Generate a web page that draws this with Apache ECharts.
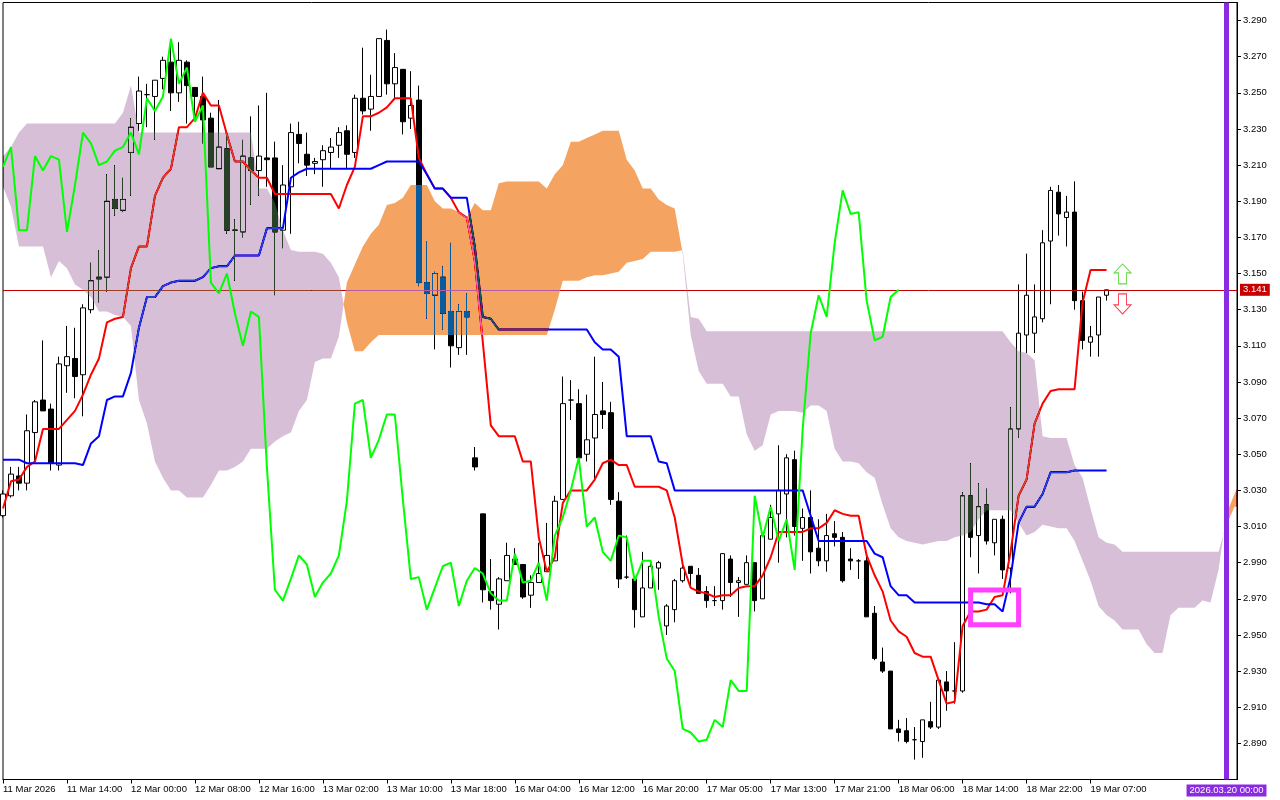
<!DOCTYPE html>
<html>
<head>
<meta charset="utf-8">
<style>html,body{margin:0;padding:0;background:#fff}#c{width:1280px;height:800px}</style>
<script src="https://cdn.jsdelivr.net/npm/echarts@6/dist/echarts.min.js"></script>
</head>
<body>
<div id="c"></div>
<script>
const opens = [
3.016,3.027,3.038,3.034,3.062,3.080,3.075,3.044,3.099,3.103,
3.094,3.130,3.148,3.148,3.191,3.185,3.217,3.233,3.249,3.248,
3.258,3.267,3.250,3.267,3.253,3.248,3.236,3.208,3.219,3.174,
3.173,3.214,3.207,3.214,3.214,3.174,3.198,3.227,3.216,3.211,
3.213,3.217,3.221,3.229,3.217,3.247,3.241,3.248,3.279,3.255,
3.263,3.236,3.246,3.145,3.138,3.148,3.129,3.109,3.129,3.048,
3.017,2.974,2.967,2.980,2.992,2.989,2.972,2.979,2.985,2.991,
3.025,3.080,3.078,3.050,3.059,3.074,3.073,3.024,2.982,2.981,
2.960,2.976,2.987,2.955,2.964,2.980,2.988,2.983,2.974,2.969,
2.969,2.992,2.979,2.978,2.990,2.970,3.003,3.017,3.028,3.047,
3.009,3.015,2.998,2.991,3.006,3.004,2.992,2.991,2.991,2.962,
2.935,2.930,2.898,2.897,2.892,2.891,2.902,2.899,2.924,2.919,
2.919,3.027,3.005,3.022,3.001,3.014,2.987,3.064,3.116,3.117,
3.125,3.168,3.195,3.181,3.184,3.135,3.112,3.116,3.138];
const closes = [
3.028,3.039,3.034,3.063,3.079,3.074,3.045,3.100,3.104,3.093,
3.131,3.146,3.147,3.190,3.186,3.191,3.231,3.251,3.249,3.257,
3.268,3.250,3.268,3.254,3.248,3.235,3.209,3.220,3.174,3.174,
3.215,3.207,3.215,3.213,3.173,3.199,3.228,3.222,3.210,3.212,
3.218,3.220,3.228,3.216,3.247,3.240,3.248,3.280,3.255,3.264,
3.234,3.243,3.145,3.139,3.150,3.128,3.110,3.129,3.126,3.043,
2.975,2.969,2.981,2.994,2.989,2.971,2.979,2.984,2.994,3.024,
3.078,3.080,3.048,3.058,3.072,3.072,3.025,2.981,2.982,2.964,
2.976,2.988,2.990,2.966,2.980,2.987,2.984,2.973,2.969,2.969,
2.995,2.979,2.980,2.990,2.969,3.005,3.015,3.030,3.048,3.010,
3.015,2.996,2.991,3.005,3.004,2.980,2.991,2.991,2.960,2.937,
2.930,2.898,2.896,2.891,2.892,2.903,2.899,2.925,2.919,2.919,
3.027,3.004,3.021,3.002,3.014,2.986,3.064,3.117,3.138,3.126,
3.167,3.196,3.183,3.184,3.135,3.113,3.115,3.137,3.141];
const lows = [
3.015,3.026,3.030,3.030,3.046,3.074,3.041,3.041,3.084,3.081,
3.071,3.128,3.134,3.140,3.182,3.184,3.193,3.229,3.231,3.224,
3.252,3.240,3.245,3.233,3.235,3.222,3.209,3.208,3.172,3.146,
3.170,3.188,3.193,3.198,3.138,3.164,3.172,3.211,3.204,3.205,
3.198,3.208,3.214,3.208,3.214,3.238,3.229,3.248,3.249,3.247,
3.227,3.230,3.143,3.125,3.108,3.119,3.098,3.105,3.105,3.041,
2.968,2.964,2.953,2.980,2.989,2.970,2.965,2.979,2.985,2.991,
3.025,3.069,3.048,3.046,3.036,3.064,3.022,2.976,2.981,2.954,
2.960,2.976,2.975,2.950,2.957,2.979,2.976,2.973,2.965,2.966,
2.964,2.971,2.960,2.978,2.963,2.970,3.003,2.990,3.004,3.005,
2.991,2.984,2.988,2.985,2.999,2.979,2.986,2.981,2.960,2.936,
2.929,2.898,2.891,2.890,2.881,2.882,2.898,2.898,2.908,2.912,
2.918,2.993,2.984,3.000,2.994,2.981,2.973,3.059,3.106,3.106,
3.123,3.133,3.171,3.165,3.130,3.108,3.104,3.104,3.135];
const highs = [
3.030,3.043,3.043,3.072,3.080,3.113,3.078,3.104,3.121,3.120,
3.133,3.156,3.163,3.205,3.210,3.203,3.236,3.259,3.255,3.257,
3.270,3.277,3.278,3.268,3.253,3.259,3.239,3.246,3.228,3.180,
3.224,3.237,3.243,3.250,3.223,3.210,3.233,3.234,3.228,3.214,
3.221,3.225,3.231,3.232,3.249,3.275,3.260,3.280,3.285,3.272,
3.263,3.262,3.254,3.168,3.151,3.154,3.167,3.133,3.139,3.054,
3.017,2.992,2.982,3.001,2.998,2.989,2.983,3.001,3.012,3.027,
3.093,3.091,3.086,3.083,3.104,3.090,3.079,3.029,3.005,2.982,
2.996,2.991,2.991,2.967,2.981,2.989,2.988,2.987,2.977,2.977,
2.995,2.994,2.982,2.994,2.990,3.005,3.022,3.055,3.050,3.052,
3.020,3.030,3.014,3.017,3.013,3.007,2.998,2.992,2.994,2.966,
2.943,2.930,2.903,2.904,2.899,2.903,2.913,2.925,2.930,2.946,
3.029,3.045,3.034,3.031,3.014,3.016,3.076,3.144,3.161,3.144,
3.174,3.198,3.199,3.193,3.201,3.140,3.121,3.137,3.141];
const tenkan = [
3.020,3.035,3.036,3.043,3.046,3.064,3.064,3.064,3.069,3.074,
3.083,3.094,3.103,3.123,3.125,3.126,3.153,3.165,3.165,3.193,
3.203,3.208,3.231,3.231,3.236,3.250,3.243,3.243,3.227,3.212,
3.212,3.207,3.203,3.203,3.194,3.194,3.194,3.194,3.194,3.194,
3.194,3.194,3.186,3.199,3.209,3.237,3.237,3.239,3.242,3.247,
3.247,3.247,3.214,3.205,3.197,3.197,3.192,3.184,3.181,3.157,
3.112,3.066,3.060,3.060,3.060,3.046,3.046,3.004,2.985,2.993,
3.023,3.030,3.030,3.030,3.036,3.045,3.047,3.044,3.044,3.032,
3.032,3.032,3.032,3.030,3.015,2.989,2.976,2.974,2.973,2.971,
2.972,2.972,2.976,2.977,2.977,2.983,2.993,3.007,3.007,3.007,
3.007,3.009,3.009,3.012,3.019,3.017,3.016,3.016,2.994,2.983,
2.974,2.958,2.952,2.949,2.940,2.938,2.938,2.925,2.912,2.913,
2.955,2.963,2.963,2.964,2.971,2.972,2.996,3.027,3.036,3.067,
3.078,3.085,3.086,3.086,3.086,3.134,3.152,3.152,3.152];
const kijun = [
3.047,3.047,3.047,3.045,3.045,3.045,3.045,3.045,3.045,3.045,
3.044,3.056,3.060,3.080,3.082,3.082,3.095,3.120,3.137,3.137,
3.143,3.145,3.146,3.146,3.146,3.148,3.153,3.154,3.154,3.160,
3.160,3.160,3.160,3.175,3.175,3.175,3.203,3.206,3.208,3.208,
3.208,3.208,3.208,3.208,3.208,3.208,3.208,3.210,3.212,3.212,
3.212,3.212,3.212,3.205,3.197,3.197,3.192,3.192,3.192,3.165,
3.126,3.125,3.119,3.119,3.119,3.119,3.119,3.119,3.119,3.119,
3.119,3.119,3.119,3.119,3.112,3.108,3.108,3.104,3.060,3.060,
3.060,3.060,3.046,3.045,3.030,3.030,3.030,3.030,3.030,3.030,
3.030,3.030,3.030,3.030,3.030,3.030,3.030,3.030,3.030,3.030,
3.030,3.016,3.002,3.002,3.002,3.002,3.002,3.002,3.002,2.995,
2.993,2.977,2.972,2.972,2.968,2.968,2.968,2.968,2.968,2.968,
2.968,2.968,2.968,2.967,2.967,2.963,2.982,3.012,3.021,3.021,
3.028,3.040,3.040,3.040,3.041,3.041,3.041,3.041,3.041];
const chikou = [
3.209,3.220,3.174,3.174,3.215,3.207,3.215,3.213,3.173,3.199,3.228,3.222,3.210,3.212,
3.218,3.220,3.228,3.216,3.247,3.240,3.248,3.280,3.255,3.264,
3.234,3.243,3.145,3.139,3.150,3.128,3.110,3.129,3.126,3.043,
2.975,2.969,2.981,2.994,2.989,2.971,2.979,2.984,2.994,3.024,
3.078,3.080,3.048,3.058,3.072,3.072,3.025,2.981,2.982,2.964,
2.976,2.988,2.990,2.966,2.980,2.987,2.984,2.973,2.969,2.969,
2.995,2.979,2.980,2.990,2.969,3.005,3.015,3.030,3.048,3.010,
3.015,2.996,2.991,3.005,3.004,2.980,2.991,2.991,2.960,2.937,
2.930,2.898,2.896,2.891,2.892,2.903,2.899,2.925,2.919,2.919,
3.027,3.004,3.021,3.002,3.014,2.986,3.064,3.117,3.138,3.126,
3.167,3.196,3.183,3.184,3.135,3.113,3.115,3.137,3.141];
const senkouA = [
3.198,3.187,3.165,3.165,3.165,3.165,3.148,3.157,3.153,3.144,
3.141,3.137,3.129,3.129,3.127,3.126,3.121,3.080,3.067,3.046,
3.037,3.030,3.030,3.026,3.026,3.026,3.033,3.041,3.041,3.043,
3.046,3.053,3.053,3.053,3.057,3.060,3.062,3.074,3.080,3.101,
3.103,3.103,3.115,3.145,3.155,3.165,3.172,3.177,3.188,3.189,
3.192,3.199,3.199,3.199,3.190,3.186,3.186,3.184,3.181,3.189,
3.185,3.185,3.200,3.201,3.201,3.201,3.201,3.201,3.197,3.205,
3.210,3.223,3.223,3.225,3.227,3.229,3.229,3.229,3.213,3.207,
3.197,3.197,3.191,3.188,3.186,3.161,3.116,3.096,3.089,3.089,
3.089,3.082,3.082,3.061,3.052,3.055,3.072,3.074,3.074,3.074,
3.073,3.077,3.077,3.074,3.053,3.046,3.046,3.045,3.040,3.037,
3.022,3.009,3.004,3.002,3.001,3.000,3.001,3.002,3.002,3.004,
3.005,3.007,3.014,3.019,3.019,3.019,3.019,3.012,3.005,3.007,
3.011,3.010,3.009,3.009,3.002,2.991,2.980,2.966,2.961,2.958,
2.953,2.953,2.953,2.945,2.940,2.940,2.961,2.965,2.965,2.965,
2.969,2.968,2.986,3.017,3.028,3.037];
const senkouB = [
3.215,3.220,3.228,3.233,3.233,3.233,3.233,3.233,3.233,3.233,
3.233,3.233,3.233,3.233,3.233,3.239,3.254,3.228,3.228,3.228,
3.228,3.228,3.228,3.228,3.228,3.228,3.228,3.228,3.228,3.228,
3.228,3.228,3.197,3.197,3.189,3.174,3.163,3.162,3.162,3.162,
3.161,3.156,3.148,3.123,3.107,3.107,3.112,3.116,3.116,3.116,
3.116,3.116,3.116,3.116,3.116,3.116,3.116,3.116,3.116,3.116,
3.116,3.116,3.116,3.116,3.116,3.116,3.116,3.116,3.116,3.130,
3.146,3.146,3.146,3.148,3.149,3.149,3.150,3.151,3.156,3.157,
3.158,3.162,3.162,3.162,3.162,3.163,3.126,3.125,3.118,3.118,
3.118,3.118,3.118,3.118,3.118,3.118,3.118,3.118,3.118,3.118,
3.118,3.118,3.118,3.118,3.118,3.118,3.118,3.118,3.118,3.118,
3.118,3.118,3.118,3.118,3.118,3.118,3.118,3.118,3.118,3.118,
3.118,3.118,3.118,3.118,3.118,3.118,3.112,3.107,3.106,3.102,
3.060,3.059,3.059,3.059,3.044,3.037,3.020,3.004,3.001,3.000,
2.996,2.996,2.996,2.996,2.996,2.996,2.996,2.996,2.996,2.996,
2.996,2.996,2.996,3.011,3.021,3.021];
const xTickLabels = ['11 Mar 2026','11 Mar 14:00','12 Mar 00:00','12 Mar 08:00','12 Mar 16:00','13 Mar 02:00','13 Mar 10:00','13 Mar 18:00','16 Mar 04:00','16 Mar 12:00','16 Mar 20:00','17 Mar 05:00','17 Mar 13:00','17 Mar 21:00','18 Mar 06:00','18 Mar 14:00','18 Mar 22:00','19 Mar 07:00'];
const barsPerXTick = 8;
const yTickLabels = ['3.290','3.270','3.250','3.230','3.210','3.190','3.170','3.150','3.130','3.110','3.090','3.070','3.050','3.030','3.010','2.990','2.970','2.950','2.930','2.910','2.890'];
const currentPrice = 3.141;
const periodEndBar = 153;
const periodEndLabel = '2026.03.20 00:00';
const highlightBox = [121, 2.9749, 127, 2.9556];
const upArrow = [140, 3.1498];
const downArrow = [140, 3.1332];

const FONT = '"Liberation Sans",Arial,sans-serif';
const FONT_SIZE = 9.5;
const pairs = a => a.map((v, i) => [i, v]);
const candles = opens.map((o, i) => [i, o, closes[i], lows[i], highs[i]]);

// contiguous stretches of the cloud with the same sign of (A - B), joined at the crossing points
function cloudRegions() {
  const regions = [];
  let cur = null;
  for (let i = 0; i < senkouA.length; i++) {
    const up = senkouA[i] >= senkouB[i];
    if (!cur || cur.up !== up) {
      if (cur) {
        const d0 = senkouA[i - 1] - senkouB[i - 1], d1 = senkouA[i] - senkouB[i];
        const t = d0 / (d0 - d1);
        const cross = [i - 1 + t, senkouA[i - 1] + (senkouA[i] - senkouA[i - 1]) * t];
        cur.upper.push(cross);
        regions.push(cur);
        cur = { up, upper: [cross], lower: [] };
      } else {
        cur = { up, upper: [], lower: [] };
      }
    }
    cur.upper.push([i, senkouA[i]]);
    cur.lower.push([i, senkouB[i]]);
  }
  regions.push(cur);
  return regions;
}
const regions = cloudRegions();

const chart = echarts.init(document.getElementById('c'), null, { renderer: 'canvas', width: 1280, height: 800 });
chart.setOption({
  animation: false,
  backgroundColor: '#ffffff',
  textStyle: { fontFamily: FONT },
  grid: { left: 2.5, top: 2.5, width: 1234.5, height: 777, show: true, borderColor: '#000', borderWidth: 1, backgroundColor: 'transparent' },
  xAxis: {
    type: 'value', min: 0, max: 154.3125, position: 'bottom',
    axisLine: { show: true, onZero: false, lineStyle: { color: '#000', width: 1 } },
    axisTick: { show: true, length: 4, lineStyle: { color: '#000' }, customValues: xTickLabels.map((_, k) => k * barsPerXTick) },
    axisLabel: {
      show: true, color: '#000', fontFamily: FONT, fontSize: FONT_SIZE, align: 'left', margin: 5,
      customValues: xTickLabels.map((_, k) => k * barsPerXTick),
      formatter: v => xTickLabels[Math.round(v / barsPerXTick)] || ''
    },
    splitLine: { show: false }
  },
  yAxis: {
    type: 'value', min: 2.87, max: 3.30, position: 'right', scale: true,
    axisLine: { show: true, onZero: false, lineStyle: { color: '#000', width: 1 } },
    axisTick: { show: true, length: 4, lineStyle: { color: '#000' }, customValues: yTickLabels.map(Number) },
    axisLabel: {
      show: true, color: '#000', fontFamily: FONT, fontSize: FONT_SIZE, margin: 6,
      customValues: yTickLabels.map(Number),
      formatter: v => v.toFixed(3)
    },
    splitLine: { show: false }
  },
  series: [
    {
      name: 'Price', type: 'candlestick', z: 1, barWidth: 5, data: candles,
      encode: { x: 0, y: [1, 2, 3, 4] },
      itemStyle: { color: '#fff', color0: '#000', borderColor: '#000', borderColor0: '#000', borderColorDoji: '#000', borderWidth: 1 }
    },
    {
      name: 'Current price', type: 'line', z: 2, data: [], symbol: 'none', silent: true,
      markLine: {
        z: 2, silent: true, symbol: 'none', animation: false, precision: 3,
        lineStyle: { color: '#c00000', width: 1, type: 'solid' },
        label: { position: 'end', distance: 3, formatter: () => currentPrice.toFixed(3), color: '#fff', backgroundColor: '#c80000', padding: [1, 3, 1, 3], fontFamily: FONT, fontSize: FONT_SIZE },
        data: [{ yAxis: currentPrice }]
      }
    },
    { name: 'Tenkan-sen', type: 'line', z: 2, data: pairs(tenkan), symbol: 'none', lineStyle: { color: '#ff0000', width: 2 } },
    { name: 'Kijun-sen', type: 'line', z: 2, data: pairs(kijun), symbol: 'none', lineStyle: { color: '#0000ff', width: 2 } },
    {
      name: 'Kumo', type: 'custom', z: 3, clip: true, silent: true, blendMode: 'difference',
      data: regions.map((_, k) => [k]),
      renderItem: (params, api) => {
        const r = regions[api.value(0)];
        const pts = r.upper.concat(r.lower.slice().reverse()).map(p => api.coord(p));
        return {
          type: 'polygon',
          shape: { points: pts },
          // inverse of the cloud colours, laid over with difference so lines and candles beneath change the way they do in the original
          style: { fill: r.up ? '#0b5b9f' : '#274027', stroke: null }
        };
      }
    },
    { name: 'Chikou Span', type: 'line', z: 4, data: pairs(chikou), symbol: 'none', lineStyle: { color: '#00ff00', width: 2 } },
    {
      name: 'Period end', type: 'line', z: 5, data: [], symbol: 'none', silent: true,
      markLine: {
        z: 5, silent: true, symbol: 'none', animation: false, precision: 0,
        lineStyle: { color: '#8a2be2', width: 5, type: 'solid' },
        label: { position: 'start', distance: 5, formatter: () => periodEndLabel, color: '#fff', backgroundColor: '#8a2be2', padding: [1, 3, 1, 3], fontFamily: FONT, fontSize: FONT_SIZE },
        data: [{ xAxis: periodEndBar }]
      }
    },
    {
      name: 'Highlight', type: 'custom', z: 6, silent: true, data: [highlightBox],
      renderItem: (params, api) => {
        const a = api.coord([api.value(0), api.value(1)]);
        const b = api.coord([api.value(2), api.value(3)]);
        return {
          type: 'rect',
          shape: { x: a[0], y: a[1], width: b[0] - a[0], height: b[1] - a[1] },
          style: { fill: null, stroke: '#ff40ff', lineWidth: 5 }
        };
      }
    },
    {
      name: 'Up signal', type: 'scatter', z: 6, silent: true, data: [upArrow], symbolSize: [17, 20],
      symbol: 'path://M8.5 0 L17 9 L12.5 9 L12.5 20 L4.5 20 L4.5 9 L0 9 Z',
      itemStyle: { color: '#fff', borderColor: '#66d94a', borderWidth: 1, opacity: 1 }
    },
    {
      name: 'Down signal', type: 'scatter', z: 6, silent: true, data: [downArrow], symbolSize: [17, 20],
      symbol: 'path://M4.5 0 L12.5 0 L12.5 11 L17 11 L8.5 20 L0 11 L4.5 11 Z',
      itemStyle: { color: '#fff', borderColor: '#ff3b4e', borderWidth: 1, opacity: 1 }
    }
  ]
});
</script>
</body>
</html>
